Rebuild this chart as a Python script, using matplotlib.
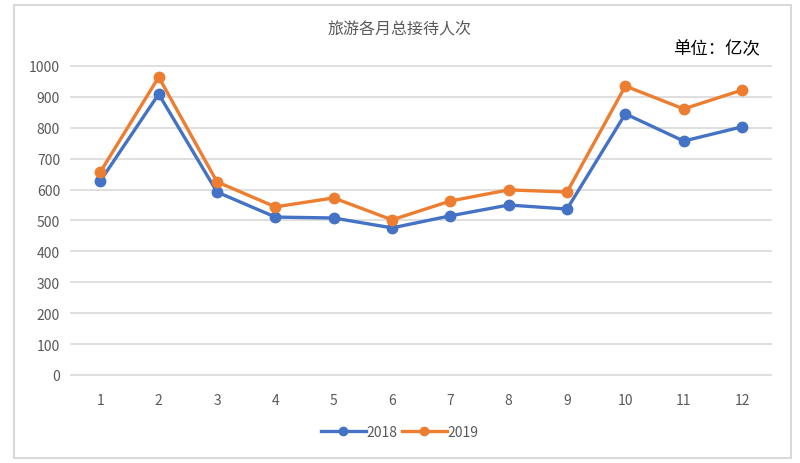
import matplotlib.pyplot as plt
from matplotlib.patches import Rectangle

plt.rcParams['font.family'] = ['Noto Sans CJK SC', 'DejaVu Sans']

# Data
months = ['1', '2', '3', '4', '5', '6', '7', '8', '9', '10', '11', '12']
visits_2018 = [628, 909, 592, 511, 508, 476, 515, 550, 537, 845, 757, 803]
visits_2019 = [657, 964, 625, 544, 573, 502, 563, 599, 592, 935, 861, 922]

blue = '#4472C4'
orange = '#ED7D31'
grid_color = '#D9D9D9'
text_gray = '#595959'

fig = plt.figure(figsize=(8, 4.64), dpi=100)
ax = fig.add_axes([0.089, 0.1897, 0.875, 0.666])

x = range(len(months))
ax.plot(x, visits_2018, color=blue, lw=2.4, marker='o', ms=7.5, label='2018')
ax.plot(x, visits_2019, color=orange, lw=2.4, marker='o', ms=7.5, label='2019')

ax.set_xlim(-0.5, len(months) - 0.5)
ax.set_ylim(0, 1000)
ax.set_yticks(range(0, 1001, 100))
ax.set_xticks(list(x))
ax.set_xticklabels(months)
ax.grid(axis='y', color=grid_color, lw=1.2)
for gl in ax.get_ygridlines():
    gl.set_clip_on(False)
ax.set_axisbelow(True)
for s in ax.spines.values():
    s.set_visible(False)
ax.tick_params(length=0, colors=text_gray, labelsize=10, pad=8)
ax.tick_params(axis='x', pad=13)

# Title and unit
fig.text(0.5, 1 - 30 / 464, '旅游各月总接待人次', ha='center', va='center',
         fontsize=11.5, color=text_gray)
fig.text(0.95, 1 - 49 / 464, '单位：亿次', ha='right', va='center',
         fontsize=12.5, color='black')

leg = fig.legend(loc='center', bbox_to_anchor=(0.5, 1 - 433 / 464), ncol=2,
                 frameon=False, fontsize=10, handlelength=3.2, markerscale=0.8,
                 handletextpad=0.1, columnspacing=0.3)
for t in leg.get_texts():
    t.set_color(text_gray)

# Outer chart border
fig.patches.append(Rectangle((14 / 800, 1 - 459 / 464), 777 / 800, 453 / 464,
                             transform=fig.transFigure, fill=False,
                             edgecolor=grid_color, lw=1.5))

fig.savefig('out.png', dpi=100)
